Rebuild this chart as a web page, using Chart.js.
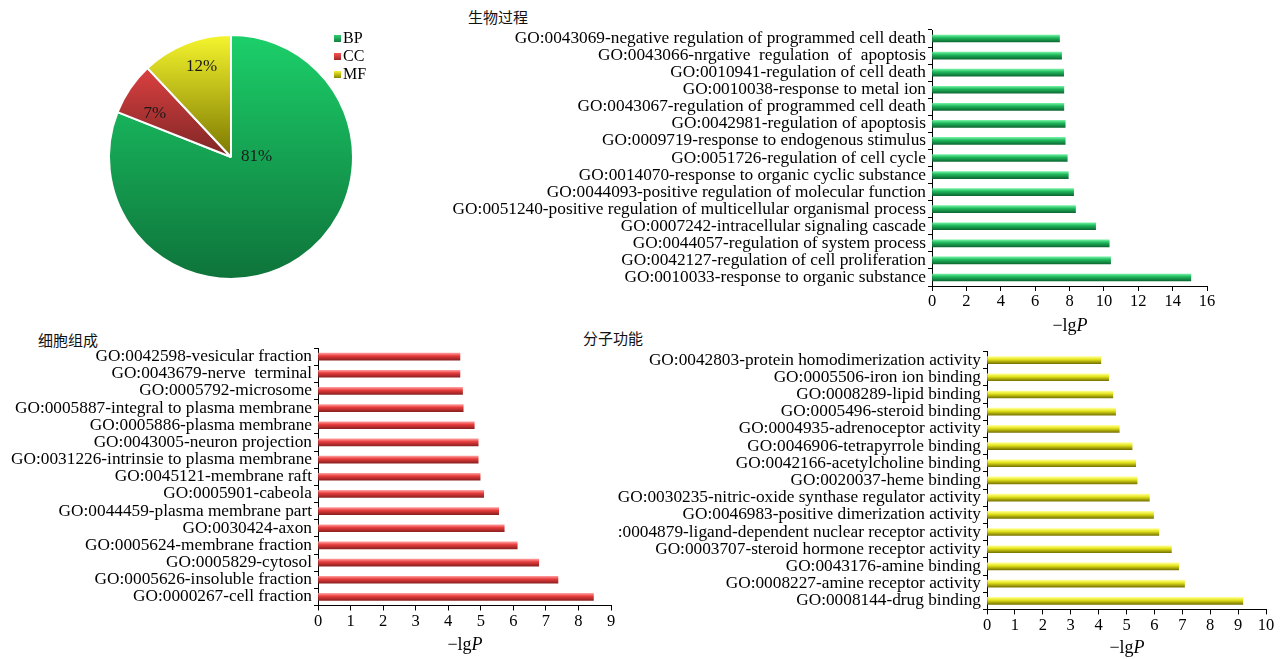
<!DOCTYPE html>
<html lang="zh">
<head>
    <meta charset="UTF-8">
    <title>GO enrichment</title>
    <script src="https://cdn.jsdelivr.net/npm/chart.js"></script>
    <style>
        body { margin: 0; background: #fff; }
        .stage { position: relative; width: 1287px; height: 659px; overflow: hidden; }
        .stage canvas { position: absolute; }
        .panel-title {
            position: absolute;
            font-family: "Noto Sans CJK SC", sans-serif;
            font-size: 15px;
            color: #111;
            line-height: 18px;
        }
        .axis-title {
            position: absolute;
            font-family: "Liberation Serif", "Times New Roman", serif;
            font-size: 18px;
            color: #000;
            transform: translateX(-50%);
            white-space: nowrap;
        }
        .legend {
            position: absolute;
            left: 334px;
            top: 29px;
            font-family: "Liberation Serif", "Times New Roman", serif;
            font-size: 16px;
            line-height: 18px;
        }
        .legend span.box {
            display: inline-block;
            width: 7px;
            height: 7px;
            margin-right: 2px;
            vertical-align: 1px;
        }
    </style>
</head>
<body>
<div class="stage">
    <canvas id="pieChart" width="260" height="260" style="left:101px; top:27px;"></canvas>
    <div class="legend">
        <div><span class="box" style="background:linear-gradient(#2fd070,#12803f)"></span>BP</div>
        <div><span class="box" style="background:linear-gradient(#ff5050,#a02a2a)"></span>CC</div>
        <div><span class="box" style="background:linear-gradient(#f4f430,#8a8600)"></span>MF</div>
    </div>

    <div class="panel-title" style="left:468px; top:8px;">生物过程</div>
    <div class="panel-title" style="left:38px; top:331px;">细胞组成</div>
    <div class="panel-title" style="left:583px; top:329px;">分子功能</div>

    <canvas id="bpChart" width="800" height="340" style="left:440px; top:0px;"></canvas>
    <canvas id="ccChart" width="640" height="329" style="left:0px; top:330px;"></canvas>
    <canvas id="mfChart" width="707" height="329" style="left:580px; top:330px;"></canvas>

    <div class="axis-title" style="left:1070px; top:315px;">−lg<i>P</i></div>
    <div class="axis-title" style="left:465px; top:634px;">−lg<i>P</i></div>
    <div class="axis-title" style="left:1127px; top:637px;">−lg<i>P</i></div>
</div>

<script>
    // pie: share of GO terms
    const pieLabels = ['BP', 'CC', 'MF'];
    const pieValues = [81, 7, 12];

    // biological process
    const bpLabels = [
        'GO:0043069-negative regulation of programmed cell death',
        'GO:0043066-nrgative  regulation  of  apoptosis',
        'GO:0010941-regulation of cell death',
        'GO:0010038-response to metal ion',
        'GO:0043067-regulation of programmed cell death',
        'GO:0042981-regulation of apoptosis',
        'GO:0009719-response to endogenous stimulus',
        'GO:0051726-regulation of cell cycle',
        'GO:0014070-response to organic cyclic substance',
        'GO:0044093-positive regulation of molecular function',
        'GO:0051240-positive regulation of multicellular organismal process',
        'GO:0007242-intracellular signaling cascade',
        'GO:0044057-regulation of system process',
        'GO:0042127-regulation of cell proliferation',
        'GO:0010033-response to organic substance'
    ];
    const bpValues = [7.42, 7.54, 7.66, 7.67, 7.67, 7.75, 7.75, 7.87, 7.93, 8.24, 8.35, 9.52, 10.31, 10.39, 15.06];

    // cellular component
    const ccLabels = [
        'GO:0042598-vesicular fraction',
        'GO:0043679-nerve  terminal',
        'GO:0005792-microsome',
        'GO:0005887-integral to plasma membrane',
        'GO:0005886-plasma membrane',
        'GO:0043005-neuron projection',
        'GO:0031226-intrinsie to plasma membrane',
        'GO:0045121-membrane raft',
        'GO:0005901-cabeola',
        'GO:0044459-plasma membrane part',
        'GO:0030424-axon',
        'GO:0005624-membrane fraction',
        'GO:0005829-cytosol',
        'GO:0005626-insoluble fraction',
        'GO:0000267-cell fraction'
    ];
    const ccValues = [4.36, 4.36, 4.44, 4.46, 4.80, 4.92, 4.92, 4.98, 5.09, 5.55, 5.72, 6.12, 6.78, 7.37, 8.46];

    // molecular function
    const mfLabels = [
        'GO:0042803-protein homodimerization activity',
        'GO:0005506-iron ion binding',
        'GO:0008289-lipid binding',
        'GO:0005496-steroid binding',
        'GO:0004935-adrenoceptor activity',
        'GO:0046906-tetrapyrrole binding',
        'GO:0042166-acetylcholine binding',
        'GO:0020037-heme binding',
        'GO:0030235-nitric-oxide synthase regulator activity',
        'GO:0046983-positive dimerization activity',
        ':0004879-ligand-dependent nuclear receptor activity',
        'GO:0003707-steroid hormone receptor activity',
        'GO:0043176-amine binding',
        'GO:0008227-amine receptor activity',
        'GO:0008144-drug binding'
    ];
    const mfValues = [4.08, 4.36, 4.51, 4.61, 4.74, 5.20, 5.33, 5.38, 5.82, 5.97, 6.16, 6.61, 6.87, 7.08, 9.17];

    const serif = '"Liberation Serif", "Times New Roman", serif';

    // bar fill: light top edge -> dark bottom edge, like the 3D excel bars
    function barFill(light, mid, dark) {
        return function (ctx) {
            const chart = ctx.chart;
            if (!chart.chartArea || !chart.scales.y) return mid;
            const y = chart.scales.y.getPixelForValue(ctx.dataIndex);
            const g = chart.ctx.createLinearGradient(0, y - 3.5, 0, y + 3.5);
            g.addColorStop(0, light);
            g.addColorStop(0.4, mid);
            g.addColorStop(1, dark);
            return g;
        };
    }

    function makeBar(id, labels, values, max, colors, box) {
        return new Chart(document.getElementById(id), {
            type: 'bar',
            data: {
                labels: labels,
                datasets: [{
                    data: values,
                    backgroundColor: barFill(colors[0], colors[1], colors[2]),
                    barThickness: 7
                }]
            },
            options: {
                indexAxis: 'y',
                responsive: false,
                animation: false,
                events: [],
                layout: { padding: { top: box.top, right: box.right, left: 0, bottom: 0 } },
                plugins: { legend: { display: false }, tooltip: { enabled: false } },
                scales: {
                    x: {
                        min: 0,
                        max: max,
                        ticks: { stepSize: box.step, color: '#000', font: { family: serif, size: 16.5 }, padding: 1 },
                        grid: { drawOnChartArea: false, drawTicks: true, tickLength: 5, color: '#000' },
                        border: { color: '#000', width: 1 },
                        afterFit: s => { s.height = box.xHeight; }
                    },
                    y: {
                        ticks: { color: '#000', font: { family: serif, size: 17.3 }, padding: 2, autoSkip: false },
                        grid: { drawOnChartArea: false, drawTicks: true, tickLength: 4, color: '#000' },
                        border: { color: '#000', width: 1 },
                        afterFit: s => { s.width = box.yWidth; }
                    }
                }
            }
        });
    }

    makeBar('bpChart', bpLabels, bpValues, 16, ['#6ff0a0', '#1fb85c', '#0c6a33'],
        { top: 30, right: 33, xHeight: 54, yWidth: 492, step: 2 });
    makeBar('ccChart', ccLabels, ccValues, 9, ['#ff9a9a', '#e83c3c', '#8e2020'],
        { top: 18, right: 29, xHeight: 53.5, yWidth: 318, step: 1 });
    makeBar('mfChart', mfLabels, mfValues, 10, ['#ffff90', '#e4e41c', '#7a7600'],
        { top: 21.5, right: 21, xHeight: 49.6, yWidth: 407, step: 1 });

    // pie slice gradients (top bright, bottom dark)
    const pieStops = [['#1cd06a', '#0e733a'], ['#ff4a4a', '#7e2626'], ['#f6f62e', '#7c7800']];
    function pieFill(ctx) {
        const chart = ctx.chart;
        const a = chart.chartArea;
        const c = pieStops[ctx.dataIndex];
        if (!a) return c[0];
        const bottom = ctx.dataIndex === 0 ? a.bottom : (a.top + a.bottom) / 2;
        const g = chart.ctx.createLinearGradient(0, a.top, 0, bottom);
        g.addColorStop(0, c[0]);
        g.addColorStop(1, c[1]);
        return g;
    }

    // percentage labels, placed by angle (deg clockwise from top) and radius fraction
    const pieLabelPlugin = {
        id: 'pieLabels',
        afterDatasetsDraw(chart, args, opts) {
            const ctx = chart.ctx;
            const arcs = chart.getDatasetMeta(0).data;
            ctx.save();
            ctx.font = '17px ' + serif;
            ctx.fillStyle = '#1a1a1a';
            ctx.textAlign = 'center';
            ctx.textBaseline = 'middle';
            arcs.forEach((arc, i) => {
                const p = opts.place[i];
                const ang = p[0] * Math.PI / 180;
                const r = arc.outerRadius * p[1];
                ctx.fillText(pieValues[i] + '%', arc.x + Math.sin(ang) * r, arc.y - Math.cos(ang) * r);
            });
            ctx.restore();
        }
    };

    new Chart(document.getElementById('pieChart'), {
        type: 'pie',
        data: {
            labels: pieLabels,
            datasets: [{
                data: pieValues,
                backgroundColor: pieFill,
                borderColor: '#fff',
                borderWidth: 2
            }]
        },
        options: {
            responsive: false,
            animation: false,
            events: [],
            layout: { padding: 7 },
            plugins: {
                legend: { display: false },
                tooltip: { enabled: false },
                pieLabels: { place: [[90, 0.21], [300, 0.72], [342, 0.78]] }
            }
        },
        plugins: [pieLabelPlugin]
    });
</script>
</body>
</html>
